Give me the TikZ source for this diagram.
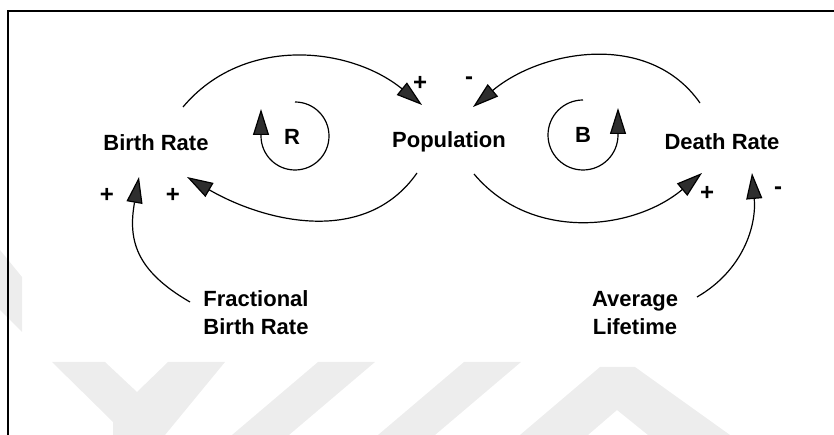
\documentclass[tikz,border=0pt]{standalone}
\usepackage{fontspec}
\setmainfont{Liberation Sans}
\usetikzlibrary{arrows.meta}

\begin{document}
\begin{tikzpicture}[x=1pt,y=1pt,
  lbl/.style={font=\fontsize{22}{28}\selectfont\bfseries, inner sep=0pt, align=center},
  sgn/.style={font=\fontsize{24}{28}\selectfont\bfseries, inner sep=0pt},
  link/.style={line width=1.2pt,
    -{Triangle[length=26pt,width=16pt,fill=black!82]}},
  wmshape/.style={fill=black!7, draw=none}
]
\useasboundingbox (0,0) rectangle (834,435);

% faint background lettering
\fill[wmshape] (52,73) -- (105,73) -- (137,43) -- (168,73) -- (225,73)
  -- (165,0) -- (113,0) -- (113,13) -- cycle;
\fill[wmshape] (232,0) -- (318,73) -- (375,73) -- (289,0) -- cycle;
\fill[wmshape] (378,0) -- (464,73) -- (521,73) -- (435,0) -- cycle;
\fill[wmshape] (520,0) -- (600,68) -- (635,68) -- (730,0) -- (648,0)
  -- (617,25) -- (588,0) -- cycle;
\fill[wmshape] (0,185) -- (22,158) -- (22,103) -- (0,125) -- cycle;

% frame
\draw[line width=2pt] (8.3,0) -- (8.3,424) -- (834,424);

% variables
\node[lbl] (BR)  at (156,292) {Birth Rate};
\node[lbl] (POP) at (449,293) {Population};
\node[lbl] (DR)  at (722,293) {Death Rate};
\node[lbl] (FBR) at (256,122) {Fractional\\Birth Rate};
\node[lbl] (AL)  at (635,122) {Average\\Lifetime};

% loop labels
\node[lbl] (R) at (292,298) {R};
\node[lbl] (B) at (583,300) {B};

% polarity signs
\node[sgn] (s1) at (420,352) {+};
\node[sgn] (s2) at (469,354) {-};
\node[sgn] (s3) at (107,240) {+};
\node[sgn] (s4) at (173,240) {+};
\node[sgn] (s5) at (707,242) {+};
\node[sgn] (s6) at (778,244) {-};

% causal links
\draw[link] ([shift={(27,36)}]BR.center) to[out=50,in=141]
  ([shift={(-27,37)}]POP.center);
\draw[link] ([shift={(-22,39)}]DR.center) to[out=125,in=40]
  ([shift={(24,35)}]POP.center);
\draw[link] ([shift={(-32,-31)}]POP.center) to[out=235,in=-30]
  ([shift={(31,-34)}]BR.center);
\draw[link] ([shift={(25,-32)}]POP.center) to[out=-50,in=-140]
  ([shift={(-20,-31)}]DR.center);
\draw[link] ([shift={(-66,11)}]FBR.center) to[out=150,in=-100,looseness=1.2]
  ([shift={(-17,-34)}]BR.center);
\draw[link] ([shift={(62,16)}]AL.center) to[out=30,in=-85]
  ([shift={(30,-31)}]DR.center);

% loop circles
\draw[link] ([shift={(3,35)}]R.center) arc[start angle=90,end angle=-180,radius=34]
  -- ++(0,27);
\draw[link] ([shift={(0,35)}]B.center) arc[start angle=90,end angle=360,radius=35]
  -- ++(0,27);
\end{tikzpicture}
\end{document}
